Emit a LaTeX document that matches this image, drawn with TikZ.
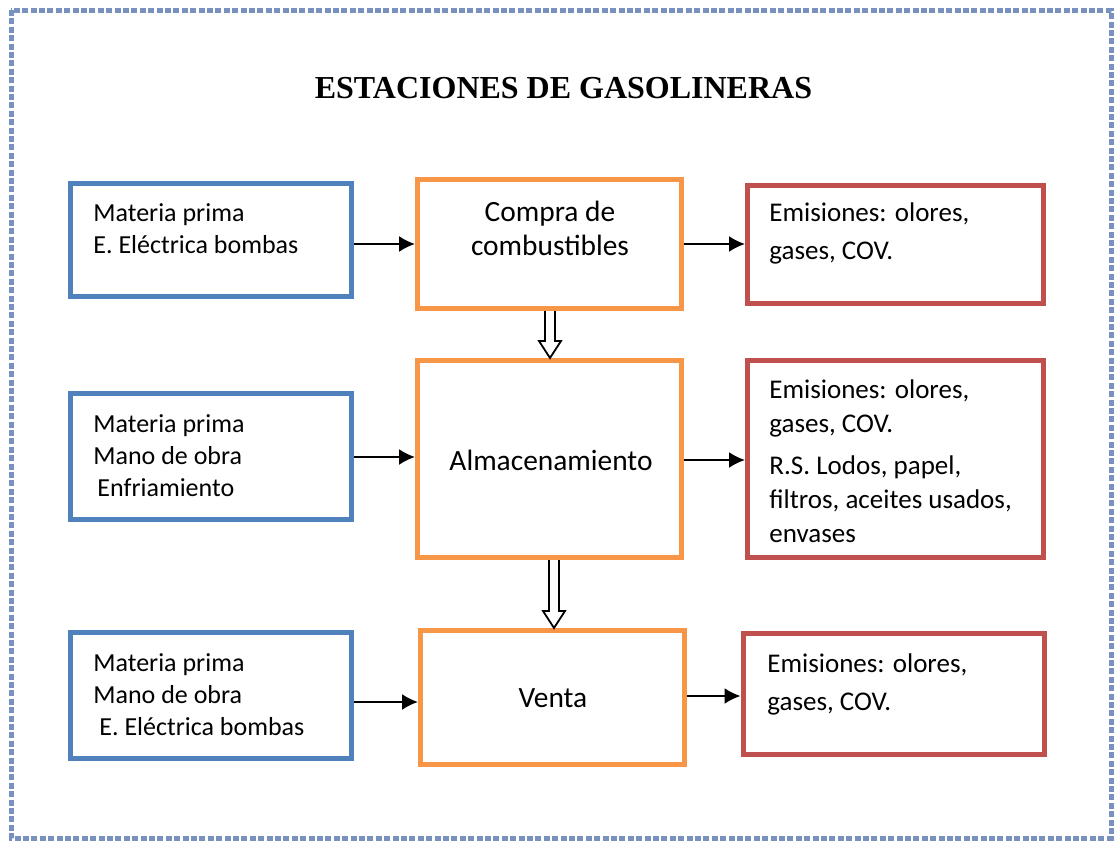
\documentclass[tikz,border=0pt]{standalone}
\usepackage{fontspec}
\setmainfont{Carlito}
\newfontfamily\Etitlefont{Liberation Serif}
\usetikzlibrary{calc,arrows.meta}
\definecolor{Eblue}{HTML}{4F81BD}
\definecolor{Eorange}{HTML}{F79646}
\definecolor{Ered}{HTML}{C0504D}
\definecolor{Eframe}{RGB}{120,145,190}
\tikzset{%
    Ebox/.style={draw=#1, line width=2.5pt, inner sep=0pt}, Ebox/.default={Eblue},
    Etext/.style={inner sep=0pt, align=left, font=\fontsize{13}{16}\selectfont},
    Eprocs/.style={inner sep=0pt, align=center, font=\fontsize{14.7}{17}\selectfont},
    Earrow/.style={line width=1pt, -{Latex[length=8pt,width=8pt]}},
    Ehollow/.style={line width=0.9pt, fill=white, line join=miter}
}
\begin{document}
\begin{tikzpicture}[x=0.5pt, y=-0.5pt]
        \useasboundingbox (0,0) rectangle (1115,841);
        \draw[Eframe, line width=2.5pt, dash pattern=on 3pt off 1.2pt] (11,10) rectangle (1111,838);
        \node[font=\Etitlefont\bfseries\fontsize{16}{19}\selectfont] (Title) at (563.5,88) {ESTACIONES DE GASOLINERAS};
        % cajas
        \path
            (211,240)    node [Ebox=Eblue, minimum width=140.5pt, minimum height=56.5pt] (In1) {}
            (211,456.5)  node [Ebox=Eblue, minimum width=140.5pt, minimum height=63pt] (In2) {}
            (211,695.5)  node [Ebox=Eblue, minimum width=140.5pt, minimum height=63pt] (In3) {}
            (549.5,244)  node [Ebox=Eorange, minimum width=132pt, minimum height=64.5pt] (Proc1) {}
            (549.5,459)  node [Ebox=Eorange, minimum width=132pt, minimum height=98.5pt] (Proc2) {}
            (552.5,697.5) node [Ebox=Eorange, minimum width=132pt, minimum height=67pt] (Proc3) {}
            (895.5,244.5) node [Ebox=Ered, minimum width=148pt, minimum height=59pt] (Out1) {}
            (895.5,459)  node [Ebox=Ered, minimum width=148pt, minimum height=98.5pt] (Out2) {}
            (893.5,693.5) node [Ebox=Ered, minimum width=150.5pt, minimum height=60.5pt] (Out3) {};
        % textos
        \node[Etext, anchor=west] (In1t) at (93,229) {Materia prima\\E. Eléctrica bombas};
        \node[Etext, anchor=west] (In2t) at (93,455.5) {Materia prima\\Mano de obra\\\hspace{2pt}Enfriamiento};
        \node[Etext, anchor=west] (In3t) at (93,694.5) {Materia prima\\Mano de obra\\\hspace{3pt}E. Eléctrica bombas};
        \node[Eprocs] (Proc1t) at (550,228) {Compra de\\combustibles};
        \node[Eprocs] (Proc2t) at (551,460) {Almacenamiento};
        \node[Eprocs] (Proc3t) at (553,698) {Venta};
        \node[Etext, anchor=west, font=\fontsize{13.5}{19}\selectfont] (Out1t) at (769,233.5) {Emisiones: olores,\\gases, COV.};
        \node[Etext, anchor=west, font=\fontsize{13.5}{17}\selectfont] (Out2t) at (769,461)
            {Emisiones: olores,\\gases, COV.\\[4pt]R.S. Lodos, papel,\\filtros, aceites usados,\\envases};
        \node[Etext, anchor=west, font=\fontsize{13.5}{19}\selectfont] (Out3t) at (767,684) {Emisiones: olores,\\gases, COV.};
        % flechas
        \foreach \a/\b/\y in {In1/Proc1/244, Proc1/Out1/244, In2/Proc2/457, Proc2/Out2/460, In3/Proc3/702, Proc3/Out3/696}
            \draw[Earrow] (\a.east |- 0,\y) -- (\b.west |- 0,\y);
        \foreach \a/\b/\x in {Proc1/Proc2/550, Proc2/Proc3/554} {
            \path (\a.south -| \x,0) coordinate (t) (\b.north -| \x,0) coordinate (h);
            \draw[Ehollow] ($(t)+(-5,0)$) -- ($(h)+(-5,-17)$) -- ($(h)+(-11,-17)$) -- (h)
                -- ($(h)+(11,-17)$) -- ($(h)+(5,-17)$) -- ($(t)+(5,0)$);
        }
    \end{tikzpicture}
\end{document}
